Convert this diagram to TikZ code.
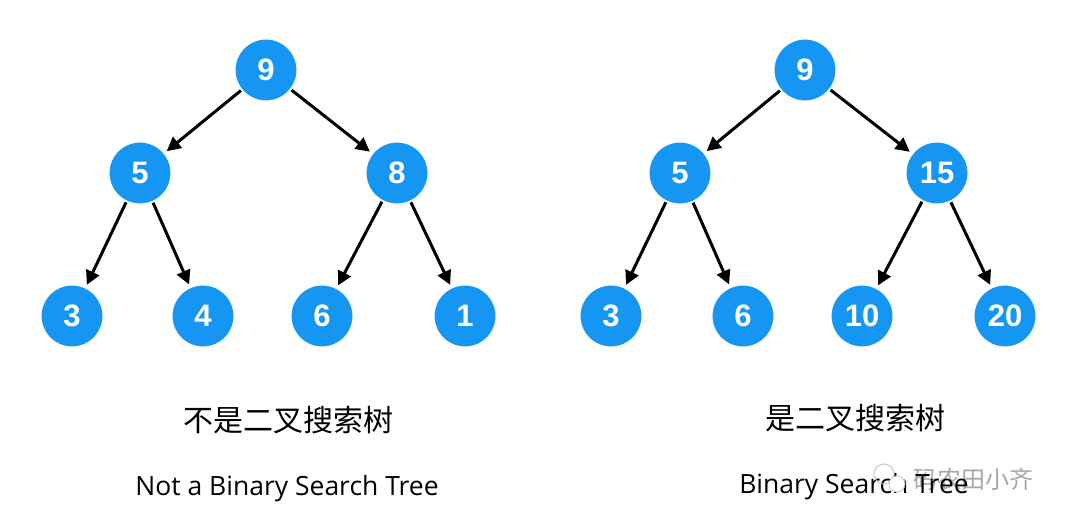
\documentclass[tikz,border=0pt]{standalone}
\usepackage{fontspec}
\setmainfont{Liberation Sans}
\newfontfamily\cjk{Noto Sans CJK SC}
\newfontfamily\hand{Open Sans}
\usetikzlibrary{arrows.meta}
\definecolor{nodeblue}{HTML}{1596F2}
\definecolor{wmgray}{HTML}{A8A8A8}
\begin{document}
\begin{tikzpicture}[x=1pt,y=-1pt,
  tnode/.style={circle,fill=nodeblue,draw=white,line width=1pt,minimum size=62pt,inner sep=0pt,
    text=white,font=\fontsize{31}{31}\selectfont\bfseries},
  edge/.style={-{Triangle[length=14pt,width=14pt]},line width=3pt,black,shorten >=3pt,shorten <=1pt},
  cn/.style={font=\cjk\fontsize{30}{30}\selectfont,text=black},
  en/.style={font=\hand\fontsize{26.5}{26.5}\selectfont,text=black}]
\useasboundingbox (0,0) rectangle (1080,525);
\fill[white] (0,0) rectangle (1080,525);
% left tree
\node[tnode] (a9) at (266,70) {9};
\node[tnode] (a5) at (140,173) {5};
\node[tnode] (a8) at (397,173) {8};
\node[tnode] (a3) at (72,316) {3};
\node[tnode] (a4) at (203,316) {4};
\node[tnode] (a6) at (322,316) {6};
\node[tnode] (a1) at (465,316) {1};
\draw[edge] (a9) -- (a5);
\draw[edge] (a9) -- (a8);
\draw[edge] (a5) -- (a3);
\draw[edge] (a5) -- (a4);
\draw[edge] (a8) -- (a6);
\draw[edge] (a8) -- (a1);
% right tree
\node[tnode] (b9) at (805,70) {9};
\node[tnode] (b5) at (680,173) {5};
\node[tnode] (b15) at (937,173) {15};
\node[tnode] (b3) at (611,316) {3};
\node[tnode] (b6) at (743,316) {6};
\node[tnode] (b10) at (862,316) {10};
\node[tnode] (b20) at (1005,316) {20};
\draw[edge] (b9) -- (b5);
\draw[edge] (b9) -- (b15);
\draw[edge] (b5) -- (b3);
\draw[edge] (b5) -- (b6);
\draw[edge] (b15) -- (b10);
\draw[edge] (b15) -- (b20);
% captions
\node[cn] (c1) at (288,420) {不是二叉搜索树};
\node[en] (e1) at (287,489) {Not a Binary Search Tree};
\node[cn] (c2) at (855,418) {是二叉搜索树};
% watermark
\node[font=\cjk\fontsize{24}{24}\selectfont,text=wmgray,anchor=west] (wm) at (910,479) {码农田小齐};
\node[en] (e2) at (854,487) {Binary Search Tree};
\node[draw=wmgray!70,circle,line width=0.8pt,minimum size=20pt,inner sep=0pt] (ic1) at (884,474) {};
\node[draw=wmgray!70,circle,line width=0.8pt,minimum size=16pt,inner sep=0pt,fill=white] (ic2) at (897,484) {};
\end{tikzpicture}
\end{document}
